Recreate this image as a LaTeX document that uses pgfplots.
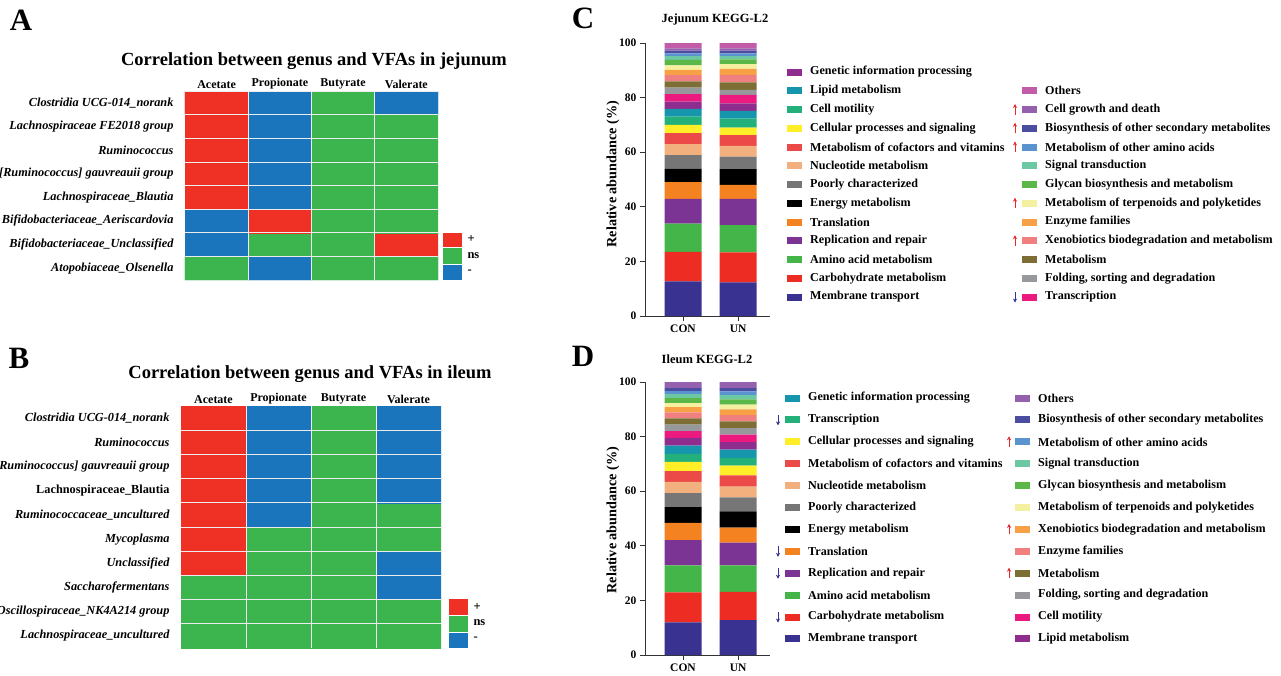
\documentclass[border=0pt]{standalone}
\usepackage{pgfplots}
\pgfplotsset{compat=1.18}
\usepackage{pgfplotstable}
\usepackage{fontspec}
\setmainfont{Liberation Serif}
\usetikzlibrary{arrows.meta}

\definecolor{cc1}{RGB}{58,50,145}
\definecolor{cc2}{RGB}{237,45,36}
\definecolor{cc3}{RGB}{68,181,73}
\definecolor{cc4}{RGB}{124,52,148}
\definecolor{cc5}{RGB}{245,130,32}
\definecolor{cc6}{RGB}{0,0,0}
\definecolor{cc7}{RGB}{118,118,118}
\definecolor{cc8}{RGB}{242,176,126}
\definecolor{cc9}{RGB}{236,74,72}
\definecolor{cc10}{RGB}{255,238,40}
\definecolor{cc11}{RGB}{35,176,122}
\definecolor{cc12}{RGB}{22,150,173}
\definecolor{cc13}{RGB}{142,45,142}
\definecolor{cc14}{RGB}{236,26,127}
\definecolor{cc15}{RGB}{151,152,156}
\definecolor{cc16}{RGB}{125,110,53}
\definecolor{cc17}{RGB}{240,128,128}
\definecolor{cc18}{RGB}{247,160,70}
\definecolor{cc19}{RGB}{245,240,160}
\definecolor{cc20}{RGB}{91,184,72}
\definecolor{cc21}{RGB}{108,200,162}
\definecolor{cc22}{RGB}{91,147,208}
\definecolor{cc23}{RGB}{75,77,160}
\definecolor{cc24}{RGB}{149,96,174}
\definecolor{cc25}{RGB}{194,91,168}
\definecolor{hmred}{RGB}{238,49,36}
\definecolor{hmgreen}{RGB}{60,181,78}
\definecolor{hmblue}{RGB}{27,117,188}
\definecolor{uparr}{RGB}{232,40,45}
\definecolor{dnarr}{RGB}{50,50,150}

\newcommand\fs[1]{\fontsize{#1}{#1}\selectfont}

% Jejunum KEGG-L2 (25 categories, bottom to top)
\pgfplotstableread{
x s1 s2 s3 s4 s5 s6 s7 s8 s9 s10 s11 s12 s13 s14 s15 s16 s17 s18 s19 s20 s21 s22 s23 s24 s25
0 12.7 10.8 10.3 9.1 6.1 5.0 4.9 4.1 4.0 3.0 3.0 2.9 2.6 2.8 2.4 2.2 2.3 2.0 1.6 2.0 1.4 1.0 1.0 0.8 2.0
1 12.3 11.0 10.0 9.6 5.1 5.8 4.6 3.9 4.0 2.7 3.3 2.8 2.8 3.1 1.8 2.8 2.7 2.2 1.8 1.7 1.2 1.0 1.0 0.8 2.0
}\tabC
% Ileum KEGG-L2 (24 categories, bottom to top)
\pgfplotstableread{
x s1 s2 s3 s4 s5 s6 s7 s8 s9 s10 s11 s12 s13 s14 s15 s16 s17 s18 s19 s20 s21 s22 s23 s24
0 12.0 10.9 9.9 9.3 6.3 5.8 5.1 4.1 4.0 3.3 3.0 3.0 2.8 2.5 2.4 2.3 2.2 1.9 1.5 1.8 1.5 1.1 1.1 2.2
1 12.8 10.3 9.7 8.4 5.5 5.9 5.1 4.0 4.1 3.6 2.8 3.0 2.8 2.7 2.4 2.5 2.3 2.1 1.7 1.9 1.6 1.4 1.2 2.2
}\tabD

\pgfplotsset{
 hm/.style={anchor=south west, scale only axis, xmin=-0.5, xmax=3.5, ymin=-0.5,
  axis x line*=top, axis y line*=left, axis line style={draw=none},
  major tick length=0pt, minor tick length=0pt,
  xtick={0,1,2,3}, xticklabels={Acetate,Propionate,Butyrate,Valerate},
  xticklabel style={font=\bfseries\fs{12}, inner sep=2pt},
  yticklabel style={font=\bfseries\itshape\fs{12.3}, xshift=-8pt},
  ytick={0,...,9},
  minor xtick={0.5,1.5,2.5}, minor ytick={0.5,1.5,...,8.5},
  xminorgrids, yminorgrids, minor grid style={white!85!gray, line width=0.7pt},
  axis on top,
  colormap={hm}{rgb255=(27,117,188) rgb255=(60,181,78) rgb255=(238,49,36)},
  colormap access=direct},
 bars/.style={anchor=south west, scale only axis, width=125pt, height=273pt,
  xmin=-0.69, xmax=1.58, ymin=0, ymax=100, ybar stacked, bar width=37pt,
  axis x line*=bottom, axis y line*=left,
  axis line style={black!80, line width=0.8pt},
  tick style={black!80, line width=0.8pt}, tick align=outside,
  major tick length=5pt,
  xtick={0,1}, xticklabels={CON,UN}, ytick={0,20,...,100},
  ticklabel style={font=\bfseries\fs{11.5}},
  /pgf/number format/assume math mode=true}
}

\begin{document}
\begin{tikzpicture}
\useasboundingbox (0,0) rectangle (1281pt,-675pt);

% ---------- A ----------
\begin{axis}[hm, at={(185pt,-280pt)}, width=253pt, height=189pt, ymax=7.5,
 yticklabels={Atopobiaceae\_Olsenella, Bifidobacteriaceae\_Unclassified,
 Bifidobacteriaceae\_Aeriscardovia, Lachnospiraceae\_Blautia,
 {[Ruminococcus] gauvreauii group}, Ruminococcus,
 Lachnospiraceae FE2018 group, Clostridia UCG-014\_norank}]
\addplot[matrix plot*, mesh/cols=4, point meta=explicit] table[meta=c]{
x y c
0 0 1
1 0 0
2 0 1
3 0 1
0 1 0
1 1 1
2 1 1
3 1 2
0 2 0
1 2 2
2 2 1
3 2 1
0 3 2
1 3 0
2 3 1
3 3 1
0 4 2
1 4 0
2 4 1
3 4 1
0 5 2
1 5 0
2 5 1
3 5 1
0 6 2
1 6 0
2 6 1
3 6 1
0 7 2
1 7 0
2 7 1
3 7 0
};
\end{axis}

% ---------- B ----------
\begin{axis}[hm, at={(181pt,-648pt)}, width=260pt, height=242pt, ymax=9.5,
 yticklabels={Lachnospiraceae\_uncultured, Oscillospiraceae\_NK4A214 group,
 Saccharofermentans, Unclassified, Mycoplasma, Ruminococcaceae\_uncultured,
 {\upshape Lachnospiraceae\_Blautia}, {[Ruminococcus] gauvreauii group},
 Ruminococcus, Clostridia UCG-014\_norank}]
\addplot[matrix plot*, mesh/cols=4, point meta=explicit] table[meta=c]{
x y c
0 0 1
1 0 1
2 0 1
3 0 1
0 1 1
1 1 1
2 1 1
3 1 1
0 2 1
1 2 1
2 2 1
3 2 0
0 3 2
1 3 1
2 3 1
3 3 0
0 4 2
1 4 1
2 4 1
3 4 1
0 5 2
1 5 0
2 5 1
3 5 1
0 6 2
1 6 0
2 6 1
3 6 0
0 7 2
1 7 0
2 7 1
3 7 0
0 8 2
1 8 0
2 8 1
3 8 0
0 9 2
1 9 0
2 9 1
3 9 0
};
\end{axis}

% ---------- C ----------
\begin{axis}[bars, at={(645pt,-316pt)}]
\pgfplotsinvokeforeach{1,...,25}{
 \addplot[fill=cc#1, draw=none] table[x=x, y=s#1]{\tabC};
}
\end{axis}

% ---------- D ----------
\begin{axis}[bars, at={(645pt,-655pt)}]
\pgfplotsinvokeforeach{1,...,24}{
 \addplot[fill=cc#1, draw=none] table[x=x, y=s#1]{\tabD};
}
\end{axis}

\begin{scope}[x=1pt, y=-1pt]
\tikzset{arr/.style={line width=1pt, -{Stealth[length=4pt,width=4.2pt]}}}
% panel letters
\node[font=\bfseries\fs{31}] at (21,20) {A};
\node[font=\bfseries\fs{31}] at (19,358) {B};
\node[font=\bfseries\fs{31}] at (583,18) {C};
\node[font=\bfseries\fs{31}] at (583,356) {D};
% heatmap titles
\node[font=\bfseries\fs{18.5}] at (314,61) {Correlation between genus and VFAs in jejunum};
\node[font=\bfseries\fs{18.5}] at (310,374) {Correlation between genus and VFAs in ileum};
% heatmap legends
\filldraw[fill=hmred, draw=white] (442,232) rectangle (462,247);
\filldraw[fill=hmgreen, draw=white] (442,247) rectangle (462,264);
\filldraw[fill=hmblue, draw=white] (442,264) rectangle (462,280);
\node[anchor=west, font=\bfseries\fs{12.5}] at (464,239) {+};
\node[anchor=west, font=\bfseries\fs{12.5}] at (464,256) {ns};
\node[anchor=west, font=\bfseries\fs{12.5}] at (464,272) {-};
\filldraw[fill=hmred, draw=white] (448,598) rectangle (468,615);
\filldraw[fill=hmgreen, draw=white] (448,615) rectangle (468,632);
\filldraw[fill=hmblue, draw=white] (448,632) rectangle (468,648);
\node[anchor=west, font=\bfseries\fs{12.5}] at (470,607) {+};
\node[anchor=west, font=\bfseries\fs{12.5}] at (470,623) {ns};
\node[anchor=west, font=\bfseries\fs{12.5}] at (470,639) {-};
% bar titles and y labels
\node[font=\bfseries\fs{12.5}] at (715,19) {Jejunum KEGG-L2};
\node[font=\bfseries\fs{12.5}] at (707,359) {Ileum KEGG-L2};
\node[rotate=90, font=\bfseries\fs{14.2}] at (613,174) {Relative abundance (\%)};
\node[rotate=90, font=\bfseries\fs{14.2}] at (613,520) {Relative abundance (\%)};
% legend C, left column
\foreach \t/\c [count=\i from 0] in {Genetic information processing/13, Lipid metabolism/12,
 Cell motility/11, Cellular processes and signaling/10, Metabolism of cofactors and vitamins/9,
 Nucleotide metabolism/8, Poorly characterized/7, Energy metabolism/6, Translation/5,
 Replication and repair/4, Amino acid metabolism/3, Carbohydrate metabolism/2, Membrane transport/1}{
 \fill[cc\c] (787,{72+18.75*\i-3.5}) rectangle ++(15,7);
 \node[anchor=west, inner sep=0pt, font=\bfseries\fs{12.1}] at (810,{72+18.75*\i}) {\t};
}
% legend C, right column
\foreach \t/\c [count=\i from 1] in {Others/25, Cell growth and death/24,
 Biosynthesis of other secondary metabolites/23, Metabolism of other amino acids/22,
 Signal transduction/21, Glycan biosynthesis and metabolism/20,
 Metabolism of terpenoids and polyketides/19, Enzyme families/18,
 Xenobiotics biodegradation and metabolism/17, Metabolism/16,
 {Folding, sorting and degradation}/15, Transcription/14}{
 \fill[cc\c] (1022,{72+18.75*\i-3.5}) rectangle ++(15,7);
 \node[anchor=west, inner sep=0pt, font=\bfseries\fs{12.1}] at (1045,{72+18.75*\i}) {\t};
}
\foreach \r in {2,3,4,7,9}{
 \draw[uparr, arr] (1015,{72+18.75*\r+5}) -- (1015,{72+18.75*\r-5.5});
}
\draw[dnarr, arr] (1015,{72+18.75*12-5}) -- (1015,{72+18.75*12+5.5});
% legend D, left column
\foreach \t/\c [count=\i from 0] in {Genetic information processing/12, Transcription/11,
 Cellular processes and signaling/10, Metabolism of cofactors and vitamins/9,
 Nucleotide metabolism/8, Poorly characterized/7, Energy metabolism/6, Translation/5,
 Replication and repair/4, Amino acid metabolism/3, Carbohydrate metabolism/2, Membrane transport/1}{
 \fill[cc\c] (785,{398+21.9*\i-3.5}) rectangle ++(15,7);
 \node[anchor=west, inner sep=0pt, font=\bfseries\fs{12.1}] at (808,{398+21.9*\i}) {\t};
}
% legend D, right column
\foreach \t/\c [count=\i from 0] in {Others/24, Biosynthesis of other secondary metabolites/23,
 Metabolism of other amino acids/22, Signal transduction/21,
 Glycan biosynthesis and metabolism/20, Metabolism of terpenoids and polyketides/19,
 Xenobiotics biodegradation and metabolism/18, Enzyme families/17, Metabolism/16,
 {Folding, sorting and degradation}/15, Cell motility/14, Lipid metabolism/13}{
 \fill[cc\c] (1015,{398+21.9*\i-3.5}) rectangle ++(15,7);
 \node[anchor=west, inner sep=0pt, font=\bfseries\fs{12.1}] at (1038,{398+21.9*\i}) {\t};
}
\foreach \r in {1,7,8,10}{
 \draw[dnarr, arr] (778,{398+21.9*\r-5}) -- (778,{398+21.9*\r+5.5});
}
\foreach \r in {2,6,8}{
 \draw[uparr, arr] (1009,{398+21.9*\r+5}) -- (1009,{398+21.9*\r-5.5});
}
\end{scope}
\end{tikzpicture}
\end{document}
